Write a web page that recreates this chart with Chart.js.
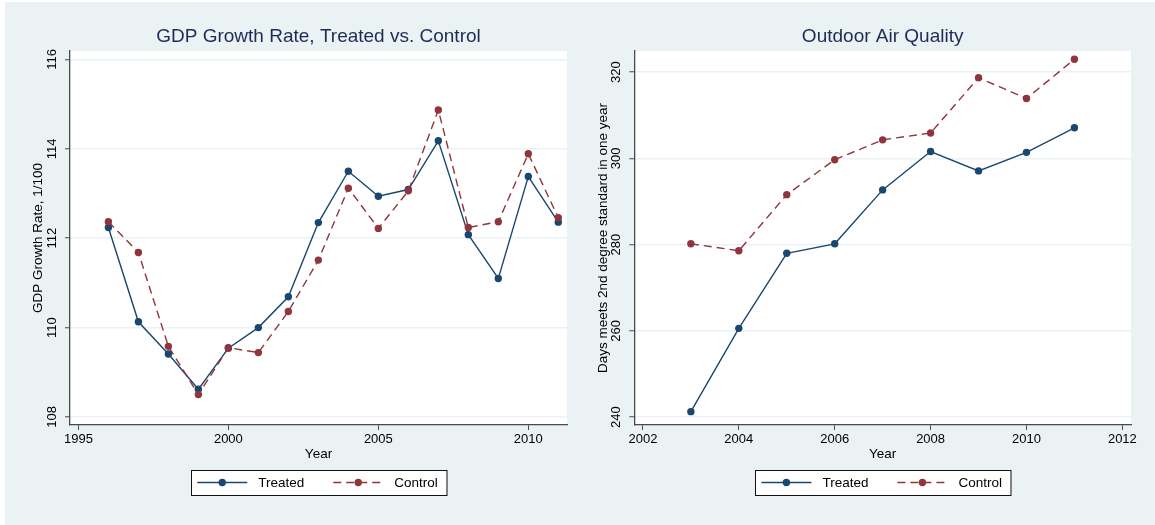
<!DOCTYPE html>
<html>
<head>
<meta charset="utf-8">
<script src="https://cdn.jsdelivr.net/npm/chart.js@4.4.1/dist/chart.umd.min.js"></script>
<style>
  html, body { margin: 0; padding: 0; background: #ffffff; }
  #wrap { position: relative; width: 1155px; height: 525px; overflow: hidden; background: #ffffff; }
  #bg { position: absolute; left: 5px; top: 2px; width: 1150px; height: 523px; background: #eaf2f3; }
  canvas { position: absolute; top: 0; }
  #c1 { left: 0; }
  #c2 { left: 580px; }
</style>
</head>
<body>
<div id="wrap">
  <div id="bg"></div>
  <canvas id="c1" width="580" height="525"></canvas>
  <canvas id="c2" width="575" height="525"></canvas>
</div>
<script>
// ---- Data ----
const gdpYears   = [1996, 1997, 1998, 1999, 2000, 2001, 2002, 2003, 2004, 2005, 2006, 2007, 2008, 2009, 2010, 2011];
const gdpTreated = [112.24, 110.13, 109.41, 108.62, 109.54, 110.00, 110.69, 112.35, 113.50, 112.94, 113.09, 114.18, 112.08, 111.10, 113.38, 112.36];
const gdpControl = [112.37, 111.68, 109.58, 108.50, 109.55, 109.44, 110.36, 111.51, 113.12, 112.22, 113.06, 114.87, 112.24, 112.37, 113.89, 112.46];

const airYears   = [2003, 2004, 2005, 2006, 2007, 2008, 2009, 2010, 2011];
const airTreated = [241.3, 260.6, 278.0, 280.2, 292.7, 301.6, 297.1, 301.4, 307.1];
const airControl = [280.2, 278.6, 291.6, 299.7, 304.3, 305.9, 318.7, 313.9, 323.0];

const gdpXTicks = [1995, 2000, 2005, 2010];
const gdpYTicks = [108, 110, 112, 114, 116];
const airXTicks = [2002, 2004, 2006, 2008, 2010, 2012];
const airYTicks = [240, 260, 280, 300, 320];

const seriesNames = ['Treated', 'Control'];

// ---- Styles ----
const FONT = "'Liberation Sans', Arial, Helvetica, sans-serif";
const NAVY = '#1a476f';
const MAROON = '#90353b';
const AXIS = '#4a4a4a';
const GRID = '#eaf2f3';
const TITLE = '#1e2b56';

const plotBg = {
  id: 'plotBg',
  beforeDraw(chart) {
    const { ctx, chartArea: a } = chart;
    ctx.save();
    ctx.fillStyle = '#ffffff';
    ctx.fillRect(a.left, a.top, a.right - a.left, a.bottom - a.top);
    ctx.restore();
  }
};

const decor = {
  id: 'decor',
  afterDraw(chart, args, opts) {
    const { ctx, chartArea: a } = chart;
    const cx = (a.left + a.right) / 2;
    ctx.save();
    // title
    ctx.fillStyle = TITLE;
    ctx.font = '19px ' + FONT;
    ctx.textAlign = 'center';
    ctx.textBaseline = 'middle';
    ctx.fillText(opts.title, cx, 36.5);
    // legend box
    const bw = 255.5, bh = 25;
    const bx = cx - bw / 2, by = 470;
    ctx.fillStyle = '#ffffff';
    ctx.fillRect(bx, by, bw, bh);
    ctx.strokeStyle = '#111111';
    ctx.lineWidth = 1;
    ctx.strokeRect(Math.round(bx) + 0.5, by + 0.5, bw, bh);
    const iconStarts = [6.5, 142.5];
    const ly = by + bh / 2;
    chart.data.datasets.forEach((ds, i) => {
      const x0 = bx + iconStarts[i];
      ctx.strokeStyle = ds.borderColor;
      ctx.lineWidth = ds.borderWidth;
      ctx.setLineDash(ds.borderDash || []);
      ctx.beginPath();
      ctx.moveTo(x0, ly);
      ctx.lineTo(x0 + 50, ly);
      ctx.stroke();
      ctx.setLineDash([]);
      ctx.fillStyle = ds.pointBackgroundColor;
      ctx.beginPath();
      ctx.arc(x0 + 25, ly, ds.pointRadius, 0, Math.PI * 2);
      ctx.fill();
      ctx.fillStyle = '#000000';
      ctx.font = '13.5px ' + FONT;
      ctx.textAlign = 'left';
      ctx.textBaseline = 'middle';
      ctx.fillText(ds.label, x0 + 61, ly + 0.5);
    });
    ctx.restore();
  }
};

function makeDatasets(years, treated, control) {
  return [
    {
      label: seriesNames[0],
      data: years.map((x, i) => ({ x: x, y: treated[i] })),
      borderColor: NAVY, backgroundColor: NAVY,
      pointBackgroundColor: NAVY, pointBorderWidth: 0, pointRadius: 3.7,
      borderWidth: 1.4, tension: 0, order: 1
    },
    {
      label: seriesNames[1],
      data: years.map((x, i) => ({ x: x, y: control[i] })),
      borderColor: MAROON, backgroundColor: MAROON,
      pointBackgroundColor: MAROON, pointBorderWidth: 0, pointRadius: 3.7,
      borderWidth: 1.4, borderDash: [8, 5], tension: 0, order: 0
    }
  ];
}

function makeChart(canvas, cfg) {
  return new Chart(canvas, {
    type: 'line',
    data: { datasets: makeDatasets(cfg.years, cfg.treated, cfg.control) },
    plugins: [plotBg, decor],
    options: {
      responsive: false,
      animation: false,
      events: [],
      layout: { padding: { left: 0, right: cfg.padRight, top: 51, bottom: 60 } },
      plugins: {
        legend: { display: false },
        title: { display: false },
        tooltip: { enabled: false },
        decor: { title: cfg.title }
      },
      scales: {
        x: {
          type: 'linear',
          min: cfg.xMin, max: cfg.xMax,
          afterBuildTicks: s => { s.ticks = cfg.xTicks.map(v => ({ value: v })); },
          afterFit: s => { s.height = 40; },
          grid: { display: true, drawOnChartArea: false, drawTicks: true, tickLength: 5, tickColor: AXIS, tickWidth: 1 },
          border: { display: true, color: AXIS, width: 1.3 },
          ticks: {
            color: '#000000', padding: 2, maxRotation: 0, minRotation: 0,
            font: { family: FONT, size: 13 },
            callback: v => String(v)
          },
          title: { display: true, text: 'Year', color: '#000000', font: { family: FONT, size: 13.5 }, padding: { top: 0, bottom: 3 } }
        },
        y: {
          type: 'linear',
          min: cfg.yMin, max: cfg.yMax,
          afterBuildTicks: s => { s.ticks = cfg.yTicks.map(v => ({ value: v })); },
          afterFit: s => { s.width = cfg.yWidth; },
          grid: { display: true, color: GRID, lineWidth: 1.5, drawTicks: true, tickLength: 5, tickColor: AXIS, tickWidth: 1 },
          border: { display: true, color: AXIS, width: 1.3 },
          ticks: {
            color: '#000000', padding: 2, minRotation: 90, maxRotation: 90, crossAlign: 'center',
            font: { family: FONT, size: 13 },
            callback: v => String(v)
          },
          title: { display: true, text: cfg.yTitle, color: '#000000', font: { family: FONT, size: 13.5 }, padding: { top: cfg.yTitlePad, bottom: 0 } }
        }
      }
    }
  });
}

makeChart(document.getElementById('c1'), {
  title: 'GDP Growth Rate, Treated vs. Control',
  years: gdpYears, treated: gdpTreated, control: gdpControl,
  xMin: 1994.72, xMax: 2011.29, xTicks: gdpXTicks,
  yMin: 107.82, yMax: 116.19, yTicks: gdpYTicks,
  yTitle: 'GDP Growth Rate, 1/100',
  yWidth: 70, yTitlePad: 30.2, padRight: 13
});

makeChart(document.getElementById('c2'), {
  title: 'Outdoor Air Quality',
  years: airYears, treated: airTreated, control: airControl,
  xMin: 2001.82, xMax: 2012.18, xTicks: airXTicks,
  yMin: 238.2, yMax: 324.9, yTicks: airYTicks,
  yTitle: 'Days meets 2nd degree standard in one year',
  yWidth: 54.3, yTitlePad: 15.4, padRight: 24
});
</script>
</body>
</html>
